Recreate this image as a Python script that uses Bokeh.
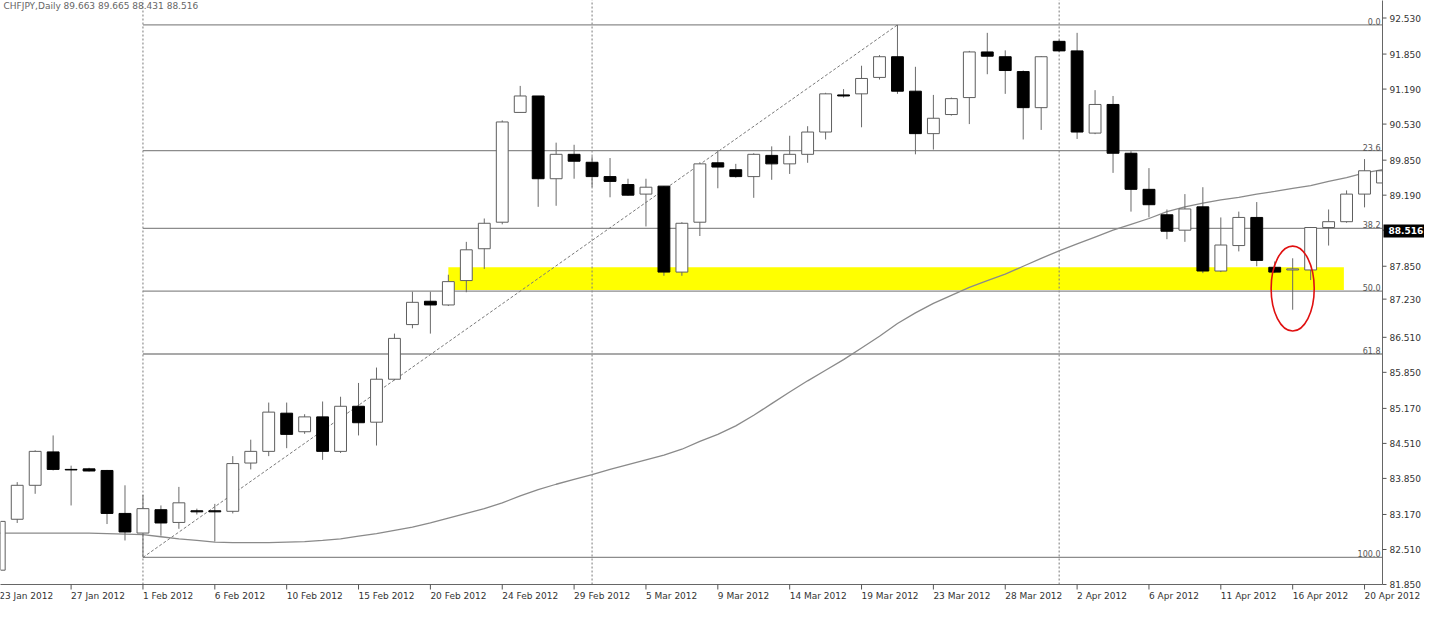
from bokeh.plotting import figure
from bokeh.models import Range1d, Label, ColumnDataSource
from bokeh.embed import file_html
from bokeh.resources import INLINE
from bokeh.core.properties import value

# ---------------- data ----------------
jan_days = [23, 24, 25, 26, 27, 29, 30, 31]
feb_days = [1, 2, 3, 5, 6, 7, 8, 9, 10, 12, 13, 14, 15, 16, 17, 19, 20, 21, 22, 23, 24, 26, 27, 28, 29]
mar_days = [1, 2, 4, 5, 6, 7, 8, 9, 11, 12, 13, 14, 15, 16, 18, 19, 20, 21, 22, 23, 25, 26, 27, 28, 29, 30]
apr_days = [1, 2, 3, 4, 5, 6, 8, 9, 10, 11, 12, 13, 15, 16, 17, 18, 19, 20, 22]

opens = [82.12, 83.08, 83.72, 84.35, 84.02, 84.03, 84.00, 83.19,
         82.82, 83.26, 83.02, 83.24, 83.24, 83.23, 84.14, 84.36, 85.08, 84.73, 85.01, 84.36, 85.21,
         84.91, 85.72, 86.75, 87.19, 87.12, 87.58, 88.18, 88.68, 90.75, 91.06, 89.50, 89.96,
         89.81, 89.54, 89.39, 89.21, 89.36, 87.74, 88.68, 89.80, 89.67, 89.54, 89.94, 89.78, 89.96,
         90.38, 91.08, 91.10, 91.41, 91.80, 91.15, 90.35, 90.71, 91.03, 91.89, 91.80, 91.52, 90.84,
         92.09, 91.91, 90.36, 90.90, 89.98, 89.30, 88.82, 88.53, 88.97, 87.76, 88.24, 88.77, 87.83,
         87.78, 87.78, 88.58, 88.69, 89.21, 89.42]
highs = [83.10, 83.78, 84.38, 84.66, 84.09, 84.05, 84.01, 83.72,
         83.54, 83.34, 83.69, 83.28, 83.37, 84.27, 84.58, 85.28, 85.28, 85.06, 85.30, 85.39, 85.65,
         85.94, 86.58, 87.37, 87.37, 87.69, 88.31, 88.75, 90.60, 91.25, 91.06, 90.18, 90.14,
         89.92, 89.89, 89.50, 89.50, 89.36, 88.68, 89.81, 90.03, 89.78, 89.98, 90.11, 90.31, 90.49,
         91.12, 91.19, 91.63, 91.83, 92.40, 91.61, 91.08, 91.03, 91.91, 92.25, 91.92, 91.54, 91.81,
         92.12, 92.25, 91.17, 91.06, 90.02, 89.70, 88.92, 89.21, 89.34, 88.77, 88.88, 89.06, 87.94,
         88.00, 88.59, 88.92, 89.28, 89.87, 89.67]
lows = [82.05, 83.01, 83.56, 84.00, 83.34, 83.98, 82.99, 82.68,
        82.36, 82.77, 82.90, 83.17, 82.66, 83.19, 84.02, 84.27, 84.42, 84.69, 84.20, 84.33, 84.66,
        84.47, 85.70, 86.68, 86.58, 87.10, 87.36, 87.80, 88.64, 90.75, 88.97, 88.99, 89.50,
        89.34, 89.15, 89.18, 88.60, 87.67, 87.67, 88.42, 89.32, 89.52, 89.14, 89.48, 89.59, 89.80,
        90.24, 91.03, 90.47, 91.37, 91.10, 89.96, 90.05, 90.69, 90.53, 91.47, 91.10, 90.24, 90.42,
        91.89, 90.25, 90.34, 89.61, 88.88, 88.77, 88.36, 88.31, 87.72, 87.74, 88.13, 87.85, 87.72,
        87.03, 87.59, 88.24, 88.67, 88.96, 89.40]
closes = [83.04, 83.72, 84.36, 84.02, 84.01, 83.99, 83.19, 82.84,
          83.28, 83.01, 83.39, 83.22, 83.22, 84.13, 84.36, 85.10, 84.68, 85.01, 84.36, 85.21, 84.90,
          85.72, 86.49, 87.17, 87.12, 87.56, 88.16, 88.66, 90.57, 91.06, 89.50, 89.96, 89.83,
          89.54, 89.45, 89.19, 89.34, 87.74, 88.66, 89.78, 89.72, 89.54, 89.96, 89.78, 89.96, 90.38,
          91.10, 91.06, 91.39, 91.80, 91.15, 90.35, 90.64, 91.01, 91.89, 91.81, 91.54, 90.84, 91.80,
          91.91, 90.38, 90.90, 89.98, 89.30, 89.01, 88.51, 88.93, 87.76, 88.25, 88.77, 87.96, 87.74,
          87.80, 88.58, 88.69, 89.21, 89.65, 89.65]
moving_avg = [82.82, 82.82, 82.82, 82.82, 82.82, 82.82, 82.81, 82.80,
              82.79, 82.75, 82.71, 82.68, 82.65, 82.64, 82.64, 82.64, 82.65, 82.66, 82.68, 82.71, 82.76,
              82.81, 82.87, 82.93, 83.01, 83.10, 83.19, 83.28, 83.39, 83.52, 83.64, 83.74, 83.83,
              83.92, 84.02, 84.11, 84.20, 84.29, 84.40, 84.55, 84.68, 84.84, 85.04, 85.26, 85.48, 85.69,
              85.89, 86.09, 86.31, 86.53, 86.77, 86.97, 87.15, 87.30, 87.45, 87.58, 87.70, 87.85, 88.00,
              88.14, 88.27, 88.40, 88.53, 88.64, 88.75, 88.88, 88.97, 89.04, 89.10, 89.15, 89.21, 89.26,
              89.32, 89.37, 89.45, 89.52, 89.61, 89.67]

x_tick_dates = ["23 Jan 2012", "27 Jan 2012", "1 Feb 2012", "6 Feb 2012", "10 Feb 2012",
                "15 Feb 2012", "20 Feb 2012", "24 Feb 2012", "29 Feb 2012", "5 Mar 2012",
                "9 Mar 2012", "14 Mar 2012", "19 Mar 2012", "23 Mar 2012", "28 Mar 2012",
                "2 Apr 2012", "6 Apr 2012", "11 Apr 2012", "16 Apr 2012", "20 Apr 2012"]
y_tick_labels = ["81.850", "82.510", "83.170", "83.850", "84.510", "85.170", "85.850", "86.510",
                 "87.230", "87.850", "88.530", "89.190", "89.850", "90.530", "91.190", "91.850", "92.530"]

separator_dates = ["1 Feb 2012", "1 Mar 2012", "1 Apr 2012"]
fib_start_date, fib_end_date = "1 Feb 2012", "21 Mar 2012"
fib_low, fib_high = 82.36, 92.40
fib_ratios = [0.0, 23.6, 38.2, 50.0, 61.8, 100.0]
fib_labels = ["0.0", "23.6", "38.2", "50.0", "61.8", "100.0"]
zone_start_date, zone_end_date = "21 Feb 2012", "19 Apr 2012"
zone_bottom, zone_top = 87.40, 87.83
circle_date, circle_price = "16 Apr 2012", 87.43
title_text = "CHFJPY,Daily  89.663 89.665 88.431 88.516"
last_price = 88.516

# ---------------- layout ----------------
FONT = "DejaVu Sans"
W, H = 1424, 608
AX_PX, BOT_PX = 42, 24          # right price-scale strip, bottom date strip
dates = ([f"{d} Jan 2012" for d in jan_days] + [f"{d} Feb 2012" for d in feb_days]
         + [f"{d} Mar 2012" for d in mar_days] + [f"{d} Apr 2012" for d in apr_days])
idx = {d: i for i, d in enumerate(dates)}
xs = list(range(len(dates)))
X0, X1 = 0.07, float(len(dates) - 1)
Y0, Y1 = 81.85, 92.86
ppb = (W - AX_PX) / (X1 - X0)   # pixels per bar
ppu = (H - BOT_PX) / (Y1 - Y0)  # pixels per price unit
X_END = X1 + AX_PX / ppb
Y_BOT = Y0 - BOT_PX / ppu

p = figure(width=W, height=H, x_range=Range1d(X0, X_END), y_range=Range1d(Y_BOT, Y1),
           output_backend="svg", toolbar_location=None,
           x_axis_location=None, y_axis_location=None,
           min_border_left=0, min_border_top=0, min_border_right=0, min_border_bottom=0,
           background_fill_color="white", border_fill_color="white")
p.outline_line_color = None
p.grid.visible = False

# yellow support zone
p.quad(left=[idx[zone_start_date]], right=[idx[zone_end_date] - 0.15],
       bottom=[zone_bottom], top=[zone_top], fill_color="#ffff00", line_color=None)

# month separators (dotted)
sep_x = [idx[d] for d in separator_dates]
p.segment(x0=sep_x, y0=[Y0] * len(sep_x), x1=sep_x, y1=[Y1 + 1] * len(sep_x),
          line_color="#7a7a7a", line_dash="2 2", line_width=1)

# fibonacci levels
fib_levels = [fib_high - r / 100.0 * (fib_high - fib_low) for r in fib_ratios]
fx = idx[fib_start_date]
p.segment(x0=[fx] * len(fib_levels), y0=fib_levels, x1=[X1] * len(fib_levels), y1=fib_levels,
          line_color="#8c8c8c", line_width=1.3)
p.text(x=[X1 - 2 / ppb] * len(fib_levels), y=fib_levels, text=fib_labels,
       text_align="right", text_baseline="bottom", text_font=value(FONT),
       text_font_size="8px", text_color="#555555")
p.line([fx, idx[fib_end_date]], [fib_low, fib_high], line_color="#7a7a7a",
       line_dash="3 2", line_width=1)

# moving average
p.line(xs, moving_avg, line_color="#8a8a8a", line_width=1.3)

# candles
bull = [c >= o for o, c in zip(opens, closes)]
src = ColumnDataSource(dict(
    x=xs, h=highs, l=lows,
    top=[max(o, c) for o, c in zip(opens, closes)],
    bot=[min(o, c) for o, c in zip(opens, closes)],
    fill=["#ffffff" if b else "#000000" for b in bull],
    line=["#5e5e5e" if b else "#000000" for b in bull],
))
p.segment(x0="x", y0="h", x1="x", y1="l", source=src, line_color="#6a6a6a", line_width=1)
p.vbar(x="x", width=0.66, top="top", bottom="bot", fill_color="fill", line_color="line",
       line_width=1, source=src)

# red ellipse
p.ellipse(x=[idx[circle_date]], y=[circle_price], width=2.4, height=1.6,
          fill_color=None, line_color="#e01010", line_width=1.6)

# ---- price scale strip (right) ----
p.quad(left=[X1], right=[X_END + 1], bottom=[Y_BOT - 1], top=[Y1 + 1],
       fill_color="white", line_color=None)
p.segment(x0=[X1], y0=[Y0], x1=[X1], y1=[Y1 + 1], line_color="#666666", line_width=1)
p.segment(x0=[X0 - 1], y0=[Y0], x1=[X1], y1=[Y0], line_color="#666666", line_width=1)
ytv = [float(s) for s in y_tick_labels]
p.segment(x0=[X1] * len(ytv), y0=ytv, x1=[X1 + 4 / ppb] * len(ytv), y1=ytv,
          line_color="#555555", line_width=1)
p.text(x=[X1 + 7 / ppb] * len(ytv), y=ytv, text=y_tick_labels, text_align="left",
       text_baseline="middle", text_font=value(FONT), text_font_size="9px",
       text_color="#333333")
p.quad(left=[X1 + 1 / ppb], right=[X_END], bottom=[last_price - 6.5 / ppu],
       top=[last_price + 6.5 / ppu], fill_color="#000000", line_color=None)
p.text(x=[X1 + 6 / ppb], y=[last_price], text=[f"{last_price:.3f}"], text_align="left",
       text_baseline="middle", text_font=value(FONT), text_font_size="9px",
       text_font_style="bold", text_color="#ffffff")

# ---- date strip (bottom) ----
tick_pos = [float(idx[d]) for d in x_tick_dates]
p.segment(x0=tick_pos, y0=[Y0] * len(tick_pos), x1=tick_pos,
          y1=[Y0 - 5 / ppu] * len(tick_pos), line_color="#555555", line_width=1)
p.text(x=tick_pos, y=[Y0 - 6 / ppu] * len(tick_pos), text=x_tick_dates, text_align="left",
       text_baseline="top", text_font=value(FONT), text_font_size="9px", text_color="#333333")

# title
p.add_layout(Label(x=X0, y=Y1, x_offset=3, text=title_text, text_baseline="top",
                   text_font=FONT, text_font_size="9px", text_color="#666666"))

open("out.html", "w").write(file_html(p, INLINE))
